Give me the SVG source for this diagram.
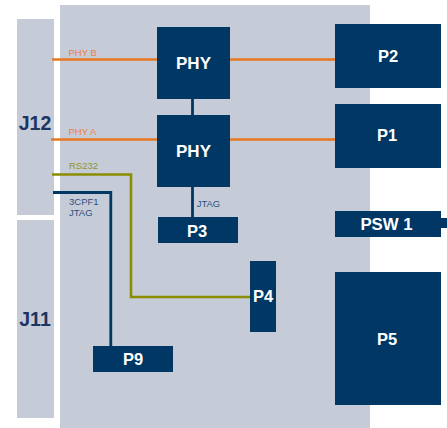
<svg xmlns="http://www.w3.org/2000/svg" width="447" height="428" viewBox="0 0 447 428">
<style>
.bg{fill:#C5CCD8}
.blk{fill:#003765}
.t{font-family:"Liberation Sans",Arial,sans-serif;font-weight:bold;fill:#FFFFFF;text-anchor:middle}
.j{font-family:"Liberation Sans",Arial,sans-serif;font-weight:bold;fill:#1E3461;text-anchor:middle;font-size:19.5px}
.lbl{font-family:"Liberation Sans",Arial,sans-serif;font-size:9.5px}
.or{stroke:#E87722;stroke-width:2.6;fill:none}
.ol{stroke:#8C8C00;stroke-width:2.6;fill:none}
.nv{stroke:#003765;stroke-width:2.8;fill:none}
</style>
<rect class="bg" x="60" y="5" width="310" height="423"/>
<g id="J12"><rect class="bg" x="17" y="19" width="37" height="196"/><text class="j" x="35" y="130">J12</text></g>
<g id="J11"><rect class="bg" x="17" y="220" width="37" height="198"/><text class="j" x="35" y="326">J11</text></g>
<g id="connectors">
<line class="or" x1="52" y1="59.5" x2="158" y2="59.5"/>
<line class="or" x1="229" y1="59.5" x2="336" y2="59.5"/>
<line class="or" x1="51" y1="139.5" x2="158" y2="139.5"/>
<line class="or" x1="229" y1="139.5" x2="336" y2="139.5"/>
<polyline class="ol" points="52,174.5 131,174.5 131,297 251,297"/>
<polyline class="nv" points="53,192.5 110.8,192.5 110.8,347"/>
<line class="nv" x1="192.5" y1="98" x2="192.5" y2="116"/>
<line class="nv" x1="192.5" y1="186" x2="192.5" y2="218"/>
<text class="lbl" x="68.5" y="55.7" fill="#EC8040">PHY B</text>
<text class="lbl" x="68.5" y="134.5" fill="#EC8040">PHY A</text>
<text class="lbl" x="69" y="169.3" fill="#939330">RS232</text>
<text class="lbl" x="69" y="204.7" fill="#2F4F7F">3CPF1</text>
<text class="lbl" x="69" y="216.3" fill="#2F4F7F">JTAG</text>
<text class="lbl" x="196.7" y="206.7" fill="#2F4F7F">JTAG</text>
</g>
<g id="PHY_B"><rect class="blk" x="157" y="27" width="73" height="72"/><text class="t" x="193.5" y="69" font-size="17px">PHY</text></g>
<g id="PHY_A"><rect class="blk" x="157" y="115" width="73" height="72"/><text class="t" x="193.5" y="157" font-size="17px">PHY</text></g>
<g id="P2"><rect class="blk" x="335" y="24" width="106" height="64"/><text class="t" x="388" y="62.3" font-size="16.5px">P2</text></g>
<g id="P1"><rect class="blk" x="335" y="104" width="106" height="64"/><text class="t" x="387" y="141" font-size="16.5px">P1</text></g>
<g id="P3"><rect class="blk" x="158" y="217" width="80" height="26"/><text class="t" x="197" y="236.7" font-size="16.5px">P3</text></g>
<g id="PSW1"><rect class="blk" x="335" y="211" width="106" height="26"/><rect class="blk" x="440" y="218" width="7" height="10"/><text class="t" x="386.5" y="230" font-size="16.8px">PSW 1</text></g>
<g id="P4"><rect class="blk" x="250" y="261" width="26" height="71"/><text class="t" x="263" y="302.3" font-size="16.5px">P4</text></g>
<g id="P5"><rect class="blk" x="335" y="272" width="106" height="133"/><text class="t" x="387" y="345" font-size="16.5px">P5</text></g>
<g id="P9"><rect class="blk" x="93" y="346" width="80" height="26"/><text class="t" x="133" y="365" font-size="16.5px">P9</text></g>
</svg>
